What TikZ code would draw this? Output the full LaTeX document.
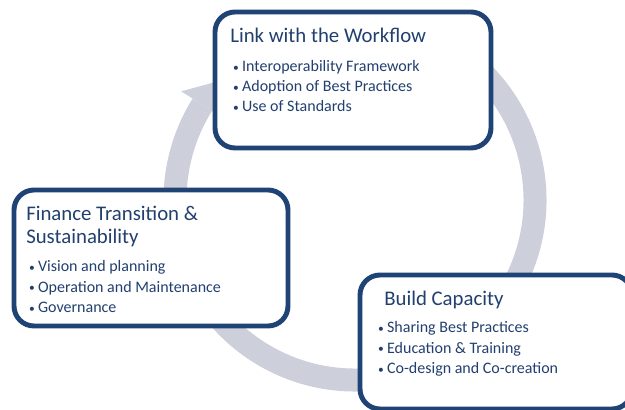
\documentclass[tikz,border=0pt]{standalone}
\usepackage{fontspec}
\setmainfont{Carlito}
\usepackage{xcolor}
\definecolor{boxblue}{HTML}{1F4375}
\definecolor{textblue}{HTML}{22406F}
\definecolor{ringgray}{HTML}{CDD0DA}
\newcommand{\bul}{\makebox[7.4pt][l]{\hspace{0.6pt}\raisebox{0.7pt}{\scalebox{0.72}{•}}}}

\begin{document}
\begin{tikzpicture}[x=0.75pt, y=0.75pt,
    stage/.style={draw=boxblue, line width=3.7pt, fill=white, rounded corners=15pt, inner sep=0pt},
    head/.style={anchor=base west, inner sep=0pt, text=textblue, font=\fontsize{15.6}{18}\selectfont},
    item/.style={anchor=base west, inner sep=0pt, text=textblue, font=\fontsize{12}{14}\selectfont}]
    \useasboundingbox (0, 0) rectangle (625, 410);
    \clip (0, 0) rectangle (625, 410);

    % cycle ring behind the boxes
    \coordinate (hub) at (355, 210);
    \draw [ringgray, line width=17.25pt] ([shift={(60:180)}]hub) arc[start angle=60, end angle=-212, radius=180];
    \fill [ringgray, shift={(hub)}] (148:155) -- (148:205) -- (138.5:180) -- cycle;

    % boxes
    \node [stage, minimum width=207pt, minimum height=102pt] (link) at (353, 330) {};
    \node [stage, minimum width=205.5pt, minimum height=102pt] (finance) at (151, 152) {};
    \node [stage, minimum width=204pt, minimum height=100.5pt] (build) at (496, 68) {};

    % texts
    \node [head] (link-head) at (230, 367) {Link with the Workflow};
    \foreach \txt [count=\i] in {Interoperability Framework, Adoption of Best Practices, Use of Standards}
        \node [item] (link-\i) at (232, {358 - 20 * \i}) {\bul\txt};

    \node [head] (finance-head) at (26, 189) {Finance Transition \&};
    \node [head] (finance-head2) at (26, 166) {Sustainability};
    \foreach \txt [count=\i] in {Vision and planning, Operation and Maintenance, Governance}
        \node [item] (finance-\i) at (28, {158.5 - 20.5 * \i}) {\bul\txt};

    \node [head] (build-head) at (384, 104) {Build Capacity};
    \foreach \txt [count=\i] in {Sharing Best Practices, Education \& Training, Co-design and Co-creation}
        \node [item] (build-\i) at (377, {97.5 - 20.5 * \i}) {\bul\txt};
\end{tikzpicture}
\end{document}
